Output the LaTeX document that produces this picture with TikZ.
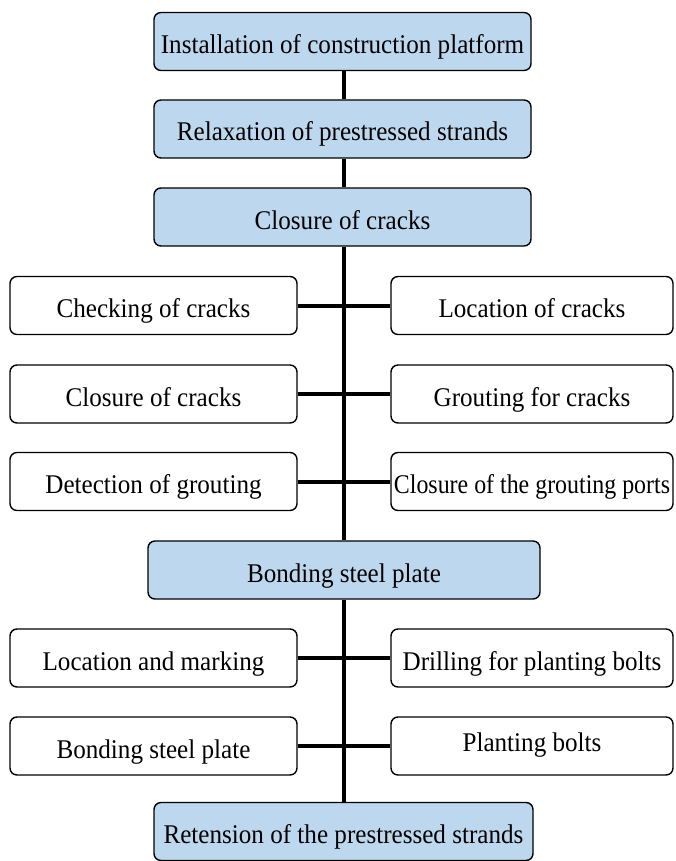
\documentclass[tikz,border=0pt]{standalone}
\usepackage{fontspec}
\setmainfont{Liberation Serif}[FakeStretch=0.93]
\newfontfamily\narrowserif{Liberation Serif}[FakeStretch=0.885]
\definecolor{boxblue}{HTML}{BDD7EE}
\begin{document}
\begin{tikzpicture}[x=1pt,y=-1pt,
  base/.style={draw=black, line width=1.4pt, rounded corners=7pt, minimum height=58pt, inner sep=0pt, text height=24pt, text depth=0pt, font=\fontsize{27}{30}\selectfont, text=black},
  mainbox/.style={base, fill=boxblue},
  sidebox/.style={base, fill=white},
  link/.style={line width=4pt, draw=black}]
\useasboundingbox (0,0) rectangle (675,861);
% main vertical chain
\node[mainbox, minimum width=377pt] (b1) at (342.5,41.5) {Installation of construction platform};
\node[mainbox, minimum width=377pt] (b2) at (342.5,129) {Relaxation of prestressed strands};
\node[mainbox, minimum width=377pt] (b3) at (342.5,217) {Closure of cracks};
\node[mainbox, minimum width=392pt] (b4) at (344,570) {Bonding steel plate};
\node[mainbox, minimum width=379pt] (b5) at (343.5,831.5) {Retension of the prestressed strands};
% side boxes
\node[sidebox, minimum width=287pt] (l1) at (153.5,305.5) {Checking of cracks};
\node[sidebox, minimum width=282pt] (r1) at (532,305.5) {Location of cracks};
\node[sidebox, minimum width=287pt] (l2) at (153.5,394) {Closure of cracks};
\node[sidebox, minimum width=282pt] (r2) at (532,394) {Grouting for cracks};
\node[sidebox, minimum width=287pt] (l3) at (153.5,481.5) {Detection of grouting};
\node[sidebox, minimum width=282pt, font=\narrowserif\fontsize{27}{30}\selectfont] (r3) at (532,481.5) {Closure of the grouting ports};
\node[sidebox, minimum width=287pt] (l4) at (153.5,658) {Location and marking};
\node[sidebox, minimum width=282pt] (r4) at (532,658) {Drilling for planting bolts};
\node[sidebox, minimum width=287pt] (l5) at (153.5,746) {Bonding steel plate};
\node[sidebox, minimum width=282pt, text height=11.5pt] (r5) at (532,746) {Planting bolts};
% connectors
\draw[link] ([xshift=1.5pt]b1.south) -- ([xshift=1.5pt]b2.north);
\draw[link] ([xshift=1.5pt]b2.south) -- ([xshift=1.5pt]b3.north);
\draw[link] ([xshift=1.5pt]b3.south) -- (b4.north);
\draw[link] (b4.south) -- ([xshift=0.5pt]b5.north);
\draw[link] (l1.east) -- (r1.west);
\draw[link] (l2.east) -- (r2.west);
\draw[link] (l3.east) -- (r3.west);
\draw[link] (l4.east) -- (r4.west);
\draw[link] (l5.east) -- (r5.west);
\end{tikzpicture}
\end{document}
